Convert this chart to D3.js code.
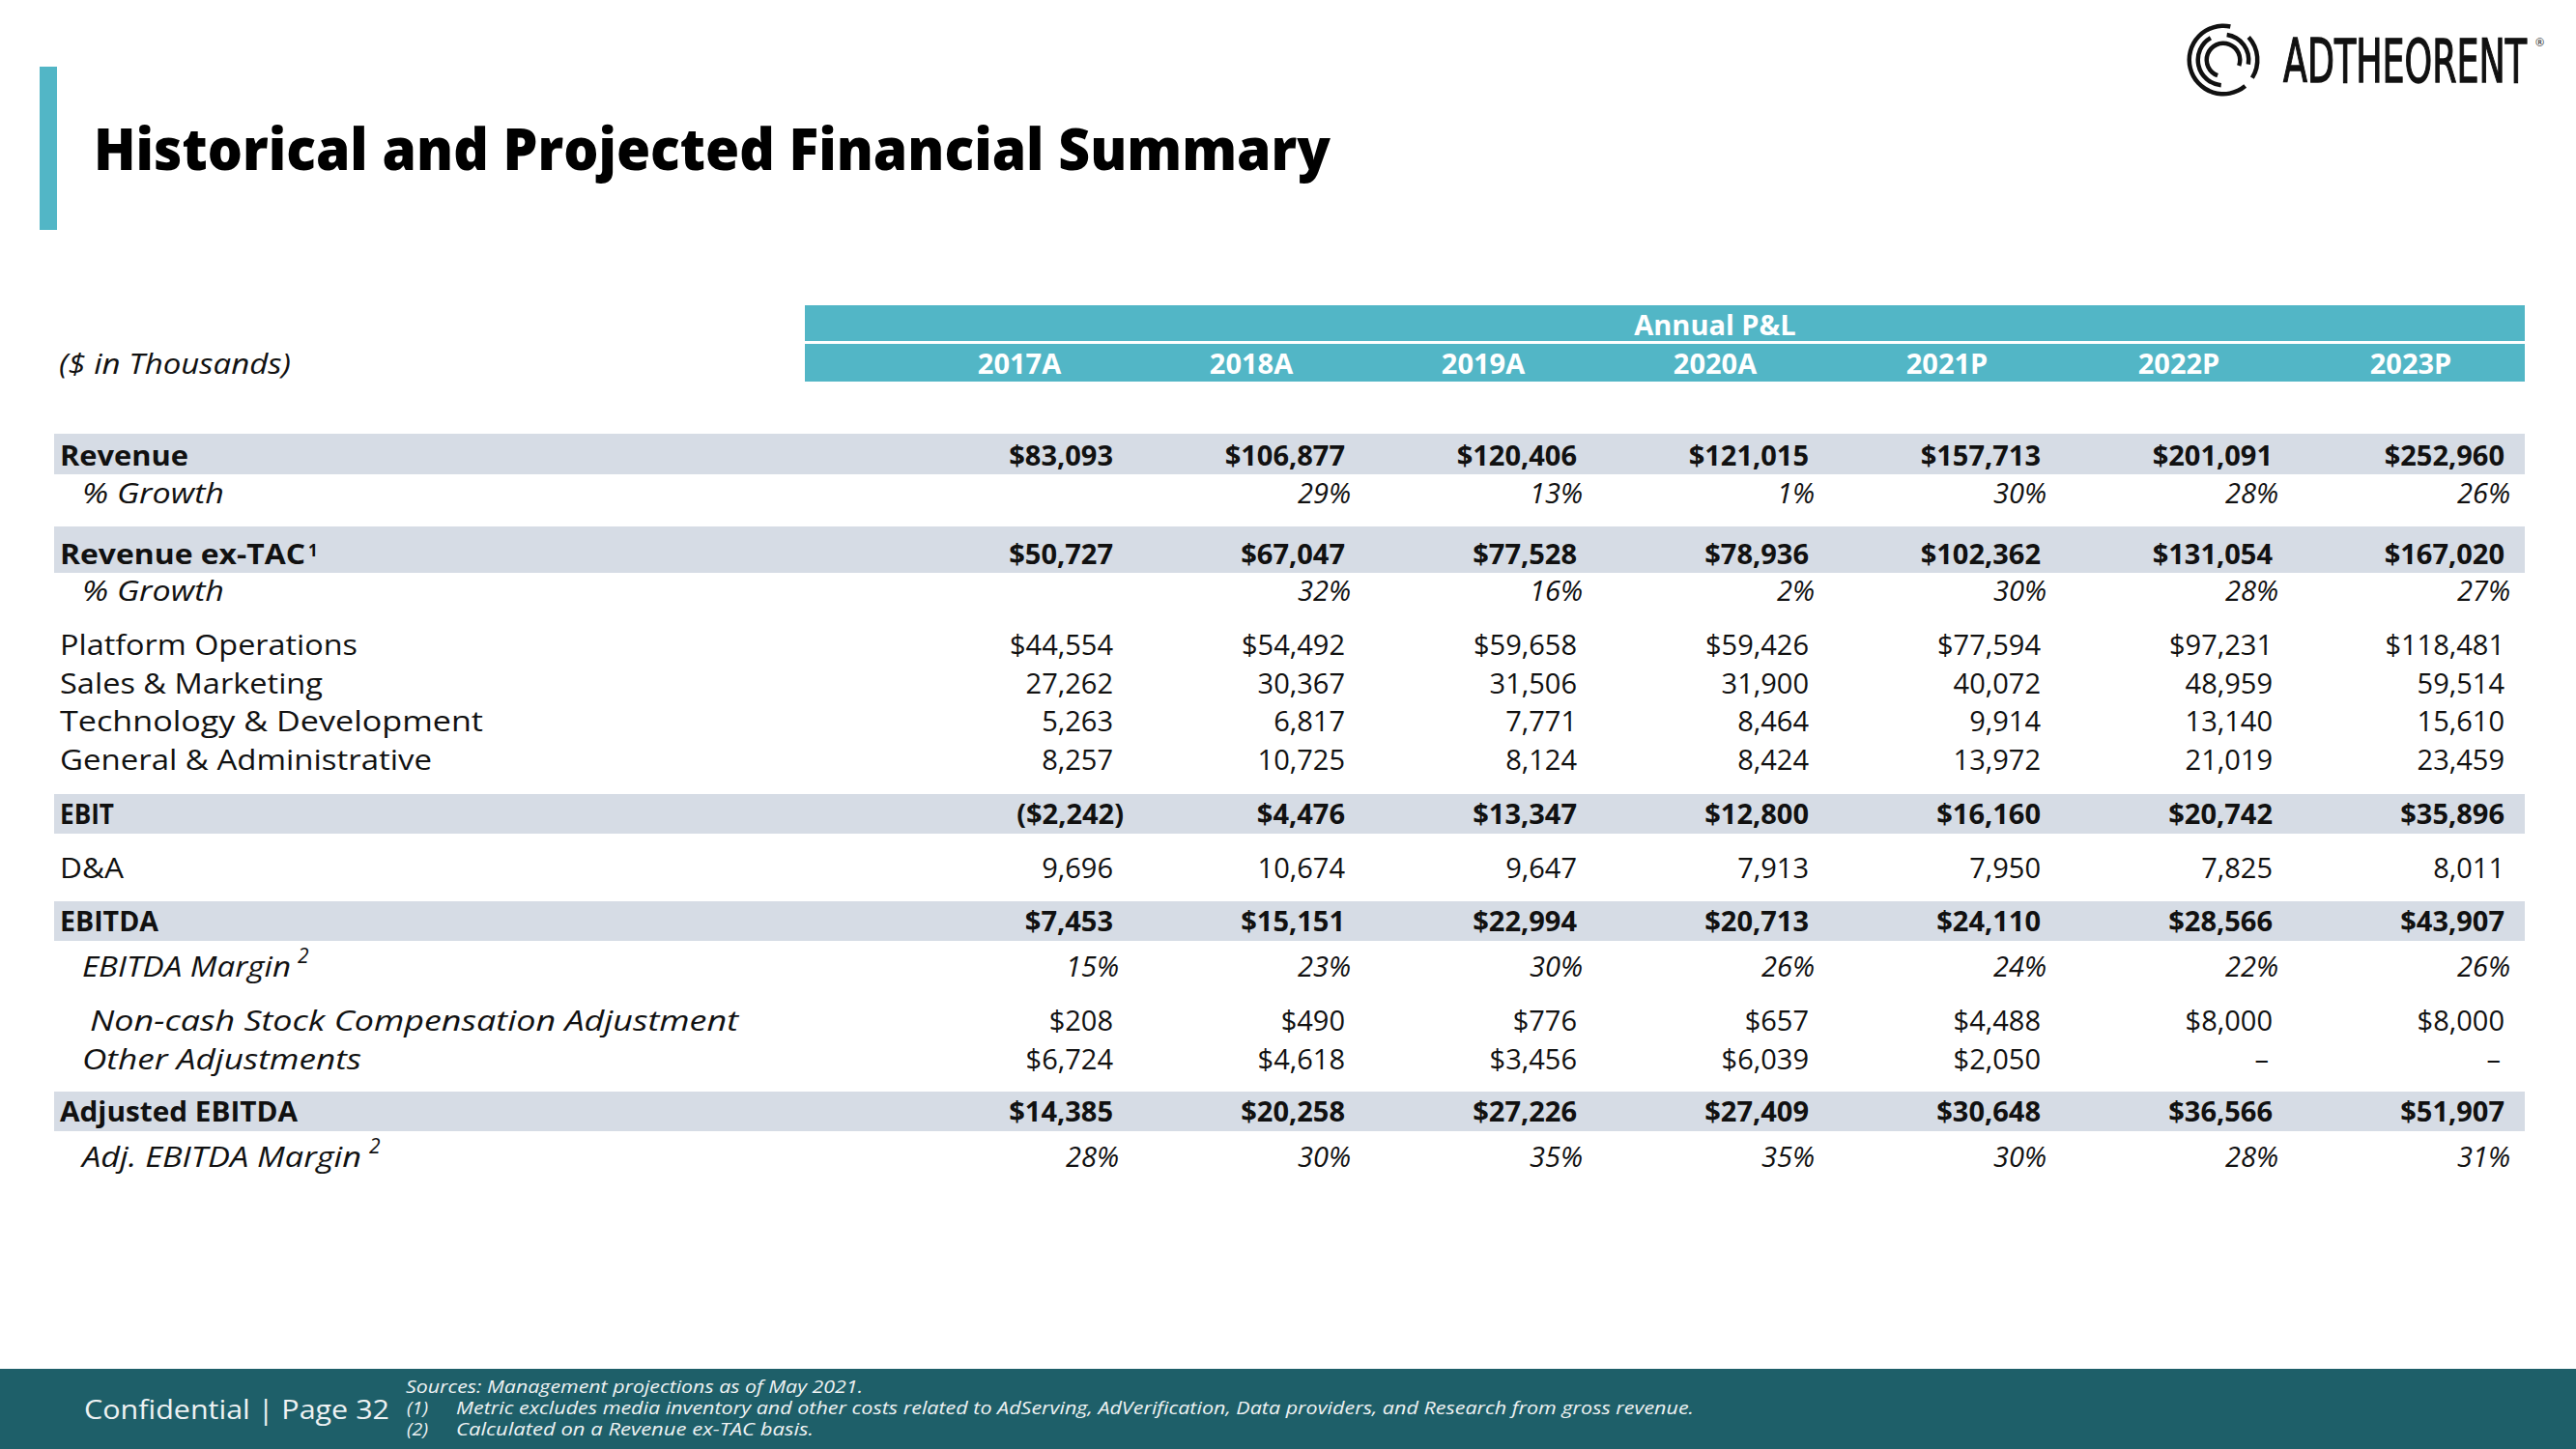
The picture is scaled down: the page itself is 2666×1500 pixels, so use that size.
<!DOCTYPE html>
<html><head><meta charset="utf-8">
<script src="https://cdn.jsdelivr.net/npm/d3@7"></script>
<style>body{margin:0;background:#fff;overflow:hidden}</style>
</head><body>
<svg id="c" width="2666" height="1500"></svg>
<script>
// ---------------- DATA ----------------
const years = ["2017A","2018A","2019A","2020A","2021P","2022P","2023P"];
const revenue            = [83093,106877,120406,121015,157713,201091,252960];
const revenueGrowth      = [null,0.29,0.13,0.01,0.30,0.28,0.26];
const revenueExTac       = [50727,67047,77528,78936,102362,131054,167020];
const revenueExTacGrowth = [null,0.32,0.16,0.02,0.30,0.28,0.27];
const platformOps        = [44554,54492,59658,59426,77594,97231,118481];
const salesMarketing     = [27262,30367,31506,31900,40072,48959,59514];
const techDev            = [5263,6817,7771,8464,9914,13140,15610];
const genAdmin           = [8257,10725,8124,8424,13972,21019,23459];
const ebit               = [-2242,4476,13347,12800,16160,20742,35896];
const depAmort           = [9696,10674,9647,7913,7950,7825,8011];
const ebitda             = [7453,15151,22994,20713,24110,28566,43907];
const ebitdaMargin       = [0.15,0.23,0.30,0.26,0.24,0.22,0.26];
const stockComp          = [208,490,776,657,4488,8000,8000];
const otherAdj           = [6724,4618,3456,6039,2050,null,null];
const adjEbitda          = [14385,20258,27226,27409,30648,36566,51907];
const adjEbitdaMargin    = [0.28,0.30,0.35,0.35,0.30,0.28,0.31];

const rowLabels = ["Revenue","% Growth","Revenue ex-TAC","% Growth","Platform Operations",
  "Sales & Marketing","Technology & Development","General & Administrative","EBIT","D&A",
  "EBITDA","EBITDA Margin","Non-cash Stock Compensation Adjustment","Other Adjustments",
  "Adjusted EBITDA","Adj. EBITDA Margin"];
const rowValues = [revenue,revenueGrowth,revenueExTac,revenueExTacGrowth,platformOps,
  salesMarketing,techDev,genAdmin,ebit,depAmort,ebitda,ebitdaMargin,stockComp,otherAdj,
  adjEbitda,adjEbitdaMargin];
const rowFormats = ["dollar","pct","dollar","pct","dollar","num","num","num","dollar","num",
  "dollar","pct","dollar","dollar","dollar","pct"];

// ---------------- LAYOUT / STYLE ----------------
const FONT = "'Open Sans', 'Noto Sans', sans-serif";
const TEAL = "#52b6c6", GRAY = "#d6dce5", FOOT = "#1e5f69";
const rowLayout = [
  {y:482, x:62, w:133, b:true,  band:[449,491]},
  {y:521, x:85, w:147, i:true},
  {y:584, x:62, w:254, b:true,  band:[545,593], sup:{t:"1", x:319, y:576, s:17}},
  {y:622, x:85, w:147, i:true},
  {y:678, x:62, w:308},
  {y:718, x:62, w:272},
  {y:757, x:62, w:438},
  {y:797, x:62, w:385},
  {y:853, x:62, w:56,  b:true,  band:[822,863]},
  {y:909, x:62, w:66},
  {y:964, x:62, w:102, b:true,  band:[933,974]},
  {y:1011,x:85, w:216, i:true, sup:{t:"2", x:308, y:997, s:21}},
  {y:1067,x:93, w:671, i:true},
  {y:1107,x:85, w:289, i:true},
  {y:1161,x:62, w:246, b:true,  band:[1130,1171]},
  {y:1208,x:85, w:289, i:true, sup:{t:"2", x:382, y:1194, s:21}}
];

const svg = d3.select("#c");
const W = 2666;

const xRight = d3.scalePoint().domain(years).range([1152, 2592]);
const headerOffset = -97;

// ---------------- TITLE & ACCENT ----------------
svg.append("rect").attr("x",41).attr("y",69).attr("width",18).attr("height",169).attr("fill",TEAL);
svg.append("text").attr("x",97).attr("y",176).attr("font-family",FONT).attr("font-weight",800)
  .attr("font-size",61).attr("textLength",1280).attr("lengthAdjust","spacingAndGlyphs")
  .attr("fill","#000").text("Historical and Projected Financial Summary");

// ---------------- LOGO ----------------
const logo = svg.append("g").attr("transform","translate(2301,62)");
const arc = d3.arc();
const deg = Math.PI/180;
const arcs = [
  {r0:33, r1:37.5, a0:140, a1:372},
  {r0:33, r1:37.5, a0:48,  a1:122},
  {r0:24, r1:28.5, a0:8,   a1:100},
  {r0:24, r1:28.5, a0:185, a1:330},
  {r0:15, r1:19.5, a0:200, a1:470}
];
logo.selectAll("path").data(arcs).join("path")
  .attr("d", d => arc({innerRadius:d.r0, outerRadius:d.r1, startAngle:d.a0*deg, endAngle:d.a1*deg}))
  .attr("fill","#111");
svg.append("text").attr("transform","translate(2363,85) scale(1,1.5)")
  .attr("font-family","'DejaVu Sans Condensed','DejaVu Sans',sans-serif")
  .attr("font-size",41).attr("font-weight",400).attr("textLength",252).attr("lengthAdjust","spacingAndGlyphs")
  .attr("fill","#111").attr("stroke","#111").attr("stroke-width",0.9).text("ADTHEORENT");
svg.append("text").attr("x",2624).attr("y",48).attr("font-family",FONT).attr("font-size",11)
  .attr("fill","#111").text("®");

// ---------------- HEADER ----------------
svg.append("rect").attr("x",833).attr("y",316).attr("width",1780).attr("height",37).attr("fill",TEAL);
svg.append("rect").attr("x",833).attr("y",356).attr("width",1780).attr("height",39).attr("fill",TEAL);
svg.append("text").attr("x",(xRight(years[0])+xRight(years[6]))/2+headerOffset).attr("y",347)
  .attr("text-anchor","middle").attr("font-family",FONT).attr("font-weight",700).attr("font-size",29)
  .attr("fill","#fff").text("Annual P&L");
svg.append("g").selectAll("text").data(years).join("text")
  .attr("x", d => xRight(d)+headerOffset).attr("y",387).attr("text-anchor","middle")
  .attr("font-family",FONT).attr("font-weight",700).attr("font-size",29).attr("fill","#fff")
  .text(d => d);
svg.append("text").attr("x",61).attr("y",387).attr("font-family",FONT).attr("font-style","italic")
  .attr("font-size",29).attr("textLength",240).attr("lengthAdjust","spacingAndGlyphs")
  .attr("fill","#111").text("($ in Thousands)");

// ---------------- BODY ----------------
const rows = rowLabels.map((label,k) => ({label, values: rowValues[k], fmt: rowFormats[k], ...rowLayout[k]}));

svg.append("g").selectAll("rect").data(rows.filter(r => r.band)).join("rect")
  .attr("x",56).attr("width",2613-56)
  .attr("y", d => d.band[0]).attr("height", d => d.band[1]-d.band[0]).attr("fill",GRAY);

const comma = d3.format(",");
const pct = d3.format(".0%");
function fmt(v, f){
  if (f === "pct") return v == null ? "" : pct(v);
  if (v == null) return "–";
  if (f === "num") return comma(v);
  return v < 0 ? "($" + comma(-v) + ")" : "$" + comma(v);
}

const body = svg.append("g").attr("font-family",FONT).attr("font-size",29).attr("fill","#111");
body.selectAll("text.lab").data(rows).join("text").attr("class","lab")
  .attr("x", d => d.x).attr("y", d => d.y)
  .attr("font-weight", d => d.b ? 700 : 400).attr("font-style", d => d.i ? "italic" : "normal")
  .attr("textLength", d => d.w).attr("lengthAdjust","spacingAndGlyphs")
  .text(d => d.label);
body.selectAll("text.sup").data(rows.filter(r => r.sup)).join("text").attr("class","sup")
  .attr("x", d => d.sup.x).attr("y", d => d.sup.y).attr("font-size", d => d.sup.s)
  .attr("font-style", d => d.i ? "italic" : "normal").attr("font-weight", d => d.b ? 700 : 400)
  .text(d => d.sup.t);

const cells = rows.flatMap(r => r.values.map((v,j) => ({r, v, year: years[j]})));
body.selectAll("text.val").data(cells).join("text").attr("class","val")
  .attr("x", d => {
    let x = xRight(d.year);
    if (d.r.fmt === "pct") x += 6;
    else if (d.v != null && d.v < 0) x += 11;
    else if (d.v == null) x -= 4;
    return x;
  })
  .attr("y", d => d.r.y).attr("text-anchor","end")
  .attr("font-weight", d => d.r.b ? 700 : 400)
  .attr("font-style", d => d.r.fmt === "pct" ? "italic" : "normal")
  .text(d => fmt(d.v, d.r.fmt));

// ---------------- FOOTER ----------------
svg.append("rect").attr("x",0).attr("y",1417).attr("width",W).attr("height",83).attr("fill",FOOT);
svg.append("text").attr("x",87).attr("y",1469).attr("font-family",FONT).attr("font-size",27)
  .attr("textLength",316).attr("lengthAdjust","spacingAndGlyphs").attr("fill","#eef2f3")
  .text("Confidential | Page 32");
const notes = [
  {t:"Sources: Management projections as of May 2021.", x:420, y:1442, w:473},
  {t:"(1)", x:421, y:1464, w:22},
  {t:"Metric excludes media inventory and other costs related to AdServing, AdVerification, Data providers, and Research from gross revenue.", x:472, y:1464, w:1281},
  {t:"(2)", x:421, y:1486, w:22},
  {t:"Calculated on a Revenue ex-TAC basis.", x:472, y:1486, w:370}
];
svg.append("g").selectAll("text").data(notes).join("text")
  .attr("x", d => d.x).attr("y", d => d.y).attr("font-family",FONT).attr("font-style","italic")
  .attr("font-size",18).attr("fill","#eef2f3").attr("textLength", d => d.w)
  .attr("lengthAdjust","spacingAndGlyphs").text(d => d.t);
</script>
</body></html>
